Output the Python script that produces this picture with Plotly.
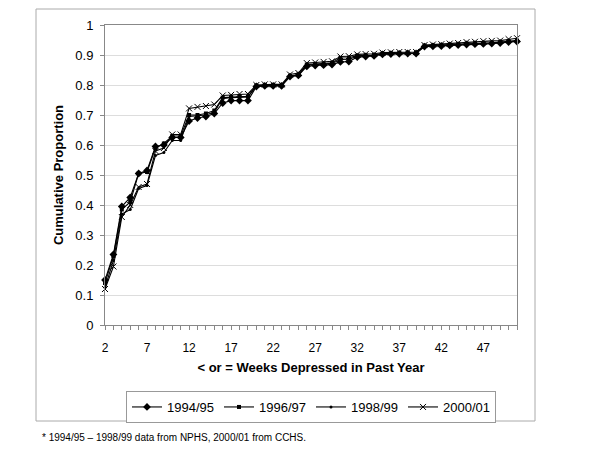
import plotly.graph_objects as go

weeks = list(range(2, 52))
x_tick_vals = [2, 7, 12, 17, 22, 27, 32, 37, 42, 47]
series_names = ["1994/95", "1996/97", "1998/99", "2000/01"]

s9495 = [0.150, 0.235, 0.395, 0.425, 0.505, 0.515, 0.595, 0.600, 0.625, 0.625,
         0.680, 0.690, 0.695, 0.705, 0.740, 0.748, 0.748, 0.748, 0.795, 0.797,
         0.797, 0.797, 0.828, 0.832, 0.862, 0.865, 0.866, 0.868, 0.877, 0.878,
         0.893, 0.895, 0.897, 0.902, 0.903, 0.904, 0.905, 0.905, 0.928, 0.929,
         0.930, 0.932, 0.933, 0.935, 0.936, 0.937, 0.938, 0.940, 0.943, 0.945]
s9697 = [0.140, 0.230, 0.385, 0.410, 0.505, 0.510, 0.590, 0.605, 0.630, 0.630,
         0.700, 0.700, 0.705, 0.715, 0.758, 0.760, 0.762, 0.762, 0.798, 0.800,
         0.800, 0.800, 0.830, 0.835, 0.868, 0.870, 0.872, 0.874, 0.890, 0.891,
         0.898, 0.899, 0.900, 0.905, 0.906, 0.907, 0.907, 0.907, 0.931, 0.932,
         0.933, 0.935, 0.936, 0.938, 0.939, 0.940, 0.941, 0.943, 0.946, 0.948]
s9899 = [0.125, 0.215, 0.370, 0.385, 0.455, 0.465, 0.565, 0.575, 0.615, 0.615,
         0.695, 0.698, 0.700, 0.710, 0.755, 0.758, 0.760, 0.760, 0.796, 0.798,
         0.798, 0.798, 0.829, 0.833, 0.866, 0.868, 0.870, 0.872, 0.885, 0.886,
         0.896, 0.897, 0.899, 0.904, 0.905, 0.906, 0.906, 0.906, 0.930, 0.931,
         0.932, 0.934, 0.935, 0.937, 0.938, 0.939, 0.940, 0.942, 0.945, 0.947]
s0001 = [0.120, 0.195, 0.360, 0.400, 0.460, 0.470, 0.580, 0.590, 0.635, 0.635,
         0.722, 0.727, 0.730, 0.735, 0.765, 0.767, 0.770, 0.770, 0.800, 0.802,
         0.802, 0.802, 0.835, 0.840, 0.873, 0.875, 0.877, 0.879, 0.895, 0.896,
         0.902, 0.903, 0.904, 0.908, 0.909, 0.910, 0.910, 0.910, 0.933, 0.935,
         0.936, 0.938, 0.940, 0.943, 0.944, 0.946, 0.947, 0.948, 0.953, 0.956]

all_series = [s9495, s9697, s9899, s0001]
markers = [
    dict(symbol="diamond", size=6, color="black"),
    dict(symbol="square", size=4, color="black"),
    dict(symbol="circle", size=3, color="black"),
    dict(symbol="x-thin-open", size=6, color="black", line=dict(width=1, color="black")),
]

FONT = "Arial, Liberation Sans, sans-serif"

fig = go.Figure()
for name, vals, mk in zip(series_names, all_series, markers):
    fig.add_trace(go.Scatter(
        x=weeks, y=vals, name=name, mode="lines+markers",
        line=dict(color="black", width=1.1),
        marker=mk, cliponaxis=False,
    ))

OFF = 8  # page body margin offset
W, H = 600, 450
L, R, T, B = 105 - OFF, 83 + OFF, 25 - OFF, 125 + OFF
pw, ph = W - L - R, H - T - B

def px_x(px):
    return (px - OFF - L) / pw

def px_y(py):
    return (H - B - (py - OFF)) / ph

fig.update_layout(
    width=W, height=H,
    margin=dict(l=L, r=R, t=T, b=B),
    paper_bgcolor="white", plot_bgcolor="white",
    font=dict(family=FONT, size=12, color="black"),
    showlegend=True,
    legend=dict(
        orientation="h", x=0.5, xanchor="center",
        y=px_y(407), yanchor="middle",
        bordercolor="#999999", borderwidth=1, bgcolor="white",
        font=dict(size=13, family=FONT),
        itemwidth=30, tracegroupgap=0,
    ),
    xaxis=dict(
        range=[2, 51], tickmode="array", tickvals=x_tick_vals,
        ticktext=[str(v) for v in x_tick_vals],
        showgrid=False, zeroline=False, automargin=False,
        showline=True, linecolor="#888888", linewidth=1, mirror=True,
        ticks="outside", ticklen=4, tickcolor="#888888", ticklabelstandoff=8,
        minor=dict(dtick=1, tick0=2, ticks="outside", ticklen=4, tickcolor="#888888", showgrid=False),
        tickfont=dict(size=12),
        title=dict(text="<b>< or = Weeks Depressed in Past Year</b>", font=dict(size=13), standoff=8),
    ),
    yaxis=dict(
        range=[0, 1], dtick=0.1, tick0=0, automargin=False,
        showgrid=True, gridcolor="#dddddd", gridwidth=1, zeroline=False,
        showline=True, linecolor="#888888", linewidth=1, mirror=True,
        ticks="outside", ticklen=4, tickcolor="#888888", ticklabelstandoff=4,
        tickfont=dict(size=13), tickformat="~g",
        title=dict(text="<b>Cumulative Proportion</b>", font=dict(size=13), standoff=8),
    ),
    shapes=[
        dict(type="rect", xref="paper", yref="paper",
             x0=px_x(36), x1=px_x(535), y0=px_y(421), y1=px_y(9),
             line=dict(color="#aaaaaa", width=1), fillcolor="rgba(0,0,0,0)", layer="below"),
    ],
    annotations=[
        dict(text="* 1994/95 – 1998/99 data from NPHS, 2000/01 from CCHS.",
             xref="paper", yref="paper", x=px_x(40), y=px_y(437),
             xanchor="left", yanchor="middle", showarrow=False,
             font=dict(size=10, family=FONT)),
    ],
)

fig.write_html("out.html")
